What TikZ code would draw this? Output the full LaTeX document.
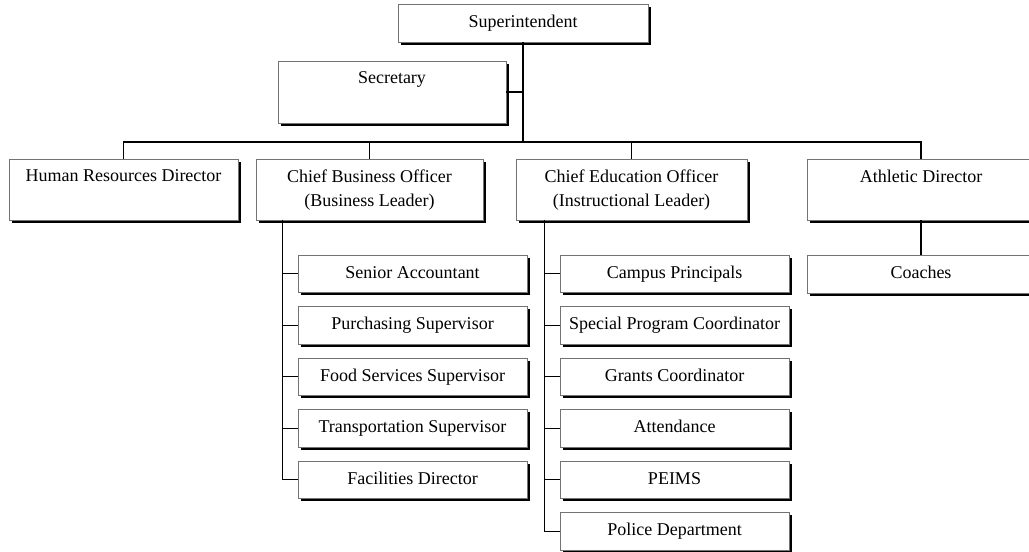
\documentclass[tikz,border=0pt]{standalone}
\usepackage{fontspec}
\setmainfont{Liberation Serif}
\usetikzlibrary{shadows}
\begin{document}
\begin{tikzpicture}[x=0.75pt, y=-0.75pt,
  box/.style={draw=black!55, fill=white, line width=0.6pt, inner sep=0pt,
    drop shadow={shadow xshift=1.9pt, shadow yshift=-1.9pt, fill=black, opacity=1}},
  big/.style={box, minimum width=#1*0.75pt, minimum height=61*0.75pt},
  small/.style={box, minimum width=229*0.75pt, minimum height=37.5*0.75pt,
    text height=0.7em, text depth=0.02em},
  txt/.style={inner sep=0pt, align=center, anchor=north},
  link/.style={draw=black, line width=0.8pt},
  every node/.style={font=\fontsize{13.5}{18}\selectfont}]
\useasboundingbox (0,0) rectangle (1029,552);

% top of the chart
\node[box, minimum width=250*0.75pt, minimum height=38*0.75pt,
  text height=0.7em, text depth=0.02em] (sup) at (523,23) {Superintendent};
\node[box, minimum width=228*0.75pt, minimum height=62*0.75pt] (sec) at (392,92) {};
\node[txt] (sec-t) at ([yshift=-10.5*0.75pt]sec.north) {Secretary};

% second level
\node[big=229] (hr)  at (123.5,189.5) {};
\node[big=227] (cbo) at (369.5,189.5) {};
\node[big=231] (ceo) at (631.5,189.5) {};
\node[big=228] (ad)  at (921,189.5) {};
\node[txt] (hr-t)  at ([yshift=-11*0.75pt]hr.north)  {Human Resources Director};
\node[txt] (cbo-t) at ([yshift=-11*0.75pt]cbo.north) {Chief Business Officer\\(Business Leader)};
\node[txt] (ceo-t) at ([yshift=-11*0.75pt]ceo.north) {Chief Education Officer\\(Instructional Leader)};
\node[txt] (ad-t)  at ([yshift=-11*0.75pt]ad.north)  {Athletic Director};

% business staff
\node[small] (sa) at (412.5,273.75) {Senior Accountant};
\node[small] (ps) at (412.5,325.25) {Purchasing Supervisor};
\node[small] (fs) at (412.5,376.75) {Food Services Supervisor};
\node[small] (ts) at (412.5,428.25) {Transportation Supervisor};
\node[small] (fd) at (412.5,479.75) {Facilities Director};

% instructional staff
\node[small] (cp) at (674.5,273.75) {Campus Principals};
\node[small] (sp) at (674.5,325.25) {Special Program Coordinator};
\node[small] (gc) at (674.5,376.75) {Grants Coordinator};
\node[small] (at) at (674.5,428.25) {Attendance};
\node[small] (pe) at (674.5,479.75) {PEIMS};
\node[small] (pd) at (674.5,531.25) {Police Department};

% athletics staff
\node[small, minimum width=228*0.75pt, minimum height=38*0.75pt] (co) at (921,274) {Coaches};

% connectors
\coordinate (bus) at (523,142);
\draw[link] (sup.south) -- (bus);
\draw[link] (sec.east) -- (sec.east -| sup.south);
\draw[link] (hr.north) |- (bus) -| (ad.north);
\draw[link] (cbo.north) -- (cbo.north |- bus);
\draw[link] (ceo.north) -- (ceo.north |- bus);

\path (cbo.south west) ++(27,0) coordinate (cbobar);
\draw[link] (cbobar) |- (fd.west);
\foreach \n in {sa,ps,fs,ts}
  \draw[link] (\n.west) -- (\n.west -| cbobar);

\path (ceo.south west) ++(29,0) coordinate (ceobar);
\draw[link] (ceobar) |- (pd.west);
\foreach \n in {cp,sp,gc,at,pe}
  \draw[link] (\n.west) -- (\n.west -| ceobar);

\draw[link] (ad.south) -- (co.north);
\end{tikzpicture}
\end{document}
